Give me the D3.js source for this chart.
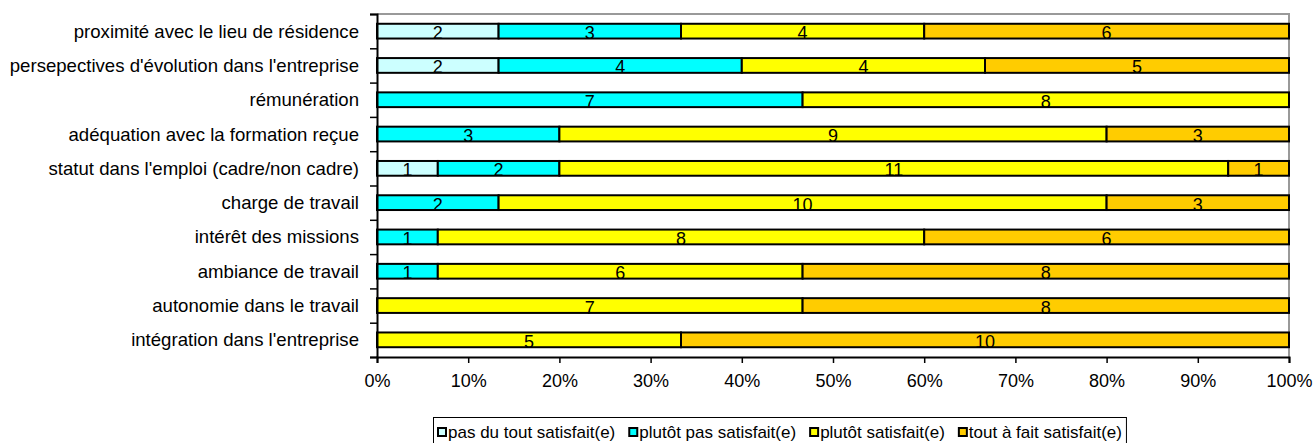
<!DOCTYPE html>
<html>
<head>
<meta charset="utf-8">
<script src="https://d3js.org/d3.v7.min.js"></script>
<style>
  body { margin: 0; background: #fff; }
  svg { font-family: Arial, "Liberation Sans", sans-serif; }
  .bar { stroke: #000; stroke-width: 2; }
</style>
</head>
<body>
<svg width="1316" height="443"></svg>
<script>
var categories = [
  "proximité avec le lieu de résidence",
  "persepectives d'évolution dans l'entreprise",
  "rémunération",
  "adéquation avec la formation reçue",
  "statut dans l'emploi (cadre/non cadre)",
  "charge de travail",
  "intérêt des missions",
  "ambiance de travail",
  "autonomie dans le travail",
  "intégration dans l'entreprise"
];
var seriesNames = ["pas du tout satisfait(e)", "plutôt pas satisfait(e)", "plutôt satisfait(e)", "tout à fait satisfait(e)"];
var pasDuTout   = [2, 2, 0, 0, 1, 0, 0, 0, 0, 0];
var plutotPas   = [3, 4, 7, 3, 2, 2, 1, 1, 0, 0];
var plutot      = [4, 4, 8, 9, 11, 10, 8, 6, 7, 5];
var toutAFait   = [6, 5, 0, 3, 1, 3, 6, 8, 8, 10];
var colors = ["#CCFFFF", "#00FFFF", "#FFFF00", "#FFCC00"];
var xTicks = [0, 0.1, 0.2, 0.3, 0.4, 0.5, 0.6, 0.7, 0.8, 0.9, 1];

var svg = d3.select("svg");
var plot = {left: 377, right: 1289, top: 14, bottom: 357};

var x = d3.scaleLinear().domain([0, 1]).range([plot.left, plot.right]);
var y = d3.scaleBand().domain(categories).range([plot.top, plot.bottom])
          .paddingInner(0.57).paddingOuter(0.285);

var series = [pasDuTout, plutotPas, plutot, toutAFait];
var rows = categories.map(function(c, i) {
  var total = 0;
  series.forEach(function(s) { total += s[i]; });
  var acc = 0;
  return series.map(function(s, k) {
    var seg = {cat: c, k: k, v: s[i], x0: acc / total, x1: (acc + s[i]) / total};
    acc += s[i];
    return seg;
  });
});

// plot border (gray top/right)
svg.append("path")
   .attr("d", "M" + plot.left + "," + plot.top + "H" + plot.right + "V" + plot.bottom)
   .attr("fill", "none").attr("stroke", "#999").attr("stroke-width", 2);

var g = svg.append("g");
rows.forEach(function(segs) {
  segs.filter(function(d) { return d.v > 0; }).forEach(function(d) {
    g.append("rect")
     .attr("class", "bar")
     .attr("x", x(d.x0))
     .attr("width", x(d.x1) - x(d.x0))
     .attr("y", y(d.cat))
     .attr("height", y.bandwidth())
     .attr("fill", colors[d.k]);
  });
});
rows.forEach(function(segs) {
  segs.filter(function(d) { return d.v > 0; }).forEach(function(d) {
    g.append("text")
     .attr("x", (x(d.x0) + x(d.x1)) / 2)
     .attr("y", y(d.cat) + y.bandwidth() / 2 + 1.5)
     .attr("dy", "0.36em")
     .attr("text-anchor", "middle")
     .attr("font-size", "18px")
     .attr("fill", "#000")
     .text(d.v);
  });
});

// left axis: ticks at band boundaries
var yIdx = d3.scaleLinear().domain([0, categories.length]).range([plot.top, plot.bottom]);
var leftAxis = svg.append("g")
   .attr("transform", "translate(" + plot.left + ",0)")
   .call(d3.axisLeft(yIdx).ticks(categories.length).tickSize(7).tickFormat(""));
leftAxis.select(".domain").attr("stroke", "#000").attr("stroke-width", 2);
leftAxis.selectAll(".tick line").attr("stroke", "#000").attr("stroke-width", 1.5);

// category labels
svg.append("g").selectAll("text")
   .data(categories).enter().append("text")
   .attr("x", 359)
   .attr("y", function(d) { return y(d) + y.bandwidth() / 2; })
   .attr("dy", "0.35em")
   .attr("text-anchor", "end")
   .attr("font-size", "18.6px")
   .attr("fill", "#000")
   .text(function(d) { return d; });

// bottom axis
var bottomAxis = svg.append("g")
   .attr("transform", "translate(0," + plot.bottom + ")")
   .call(d3.axisBottom(x).tickValues(xTicks).tickSize(6).tickPadding(11)
         .tickFormat(d3.format(".0%")));
bottomAxis.select(".domain").attr("stroke", "#000").attr("stroke-width", 2);
bottomAxis.selectAll(".tick line").attr("stroke", "#000").attr("stroke-width", 1.5);
bottomAxis.selectAll(".tick text").attr("font-size", "18px").attr("fill", "#000")
   .attr("font-family", "Arial, 'Liberation Sans', sans-serif");

// legend
var legend = svg.append("g");
var lx = 438, ly = 432;
var box = legend.append("rect")
   .attr("fill", "#fff").attr("stroke", "#000").attr("stroke-width", 1);
seriesNames.forEach(function(name, k) {
  legend.append("rect")
     .attr("x", lx).attr("y", ly - 4)
     .attr("width", 8).attr("height", 8)
     .attr("fill", colors[k]).attr("stroke", "#000").attr("stroke-width", 2);
  var t = legend.append("text")
     .attr("x", lx + 10).attr("y", ly)
     .attr("dy", "0.35em")
     .attr("font-size", "17px")
     .attr("fill", "#000")
     .text(name);
  lx += 10 + t.node().getComputedTextLength() + 14;
});
box.attr("x", 433.5).attr("y", 417.5).attr("width", lx - 433 - 10).attr("height", 30);
</script>
</body>
</html>
